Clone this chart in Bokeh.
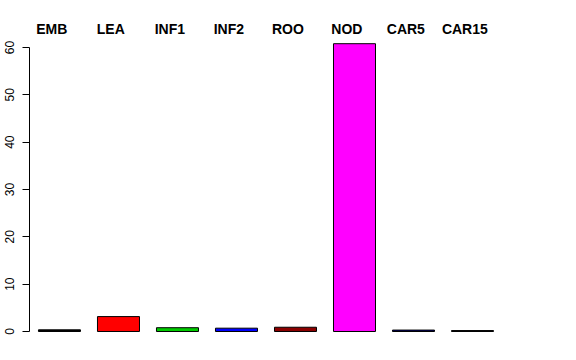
from bokeh.plotting import figure
from bokeh.models import ColumnDataSource
from bokeh.core.properties import value
from bokeh.embed import file_html
from bokeh.resources import INLINE

categories = ["EMB", "LEA", "INF1", "INF2", "ROO", "NOD", "CAR5", "CAR15"]
values = [0.35, 3.15, 0.8, 0.7, 0.9, 60.8, 0.3, 0.2]
colors = ["#000000", "#FF0000", "#00CD00", "#0000FF", "#8B0000", "#FF00FF", "#000080", "#555555"]
y_ticks = [0, 10, 20, 30, 40, 50, 60]

idx = list(range(len(categories)))
label_shift = 0.13
label_y = 64.0

src = ColumnDataSource(dict(x=idx, top=values, color=colors, cat=categories,
                            lx=[i - label_shift for i in idx], ly=[label_y] * len(idx)))

p = figure(width=576, height=360, output_backend="svg", toolbar_location=None,
           x_axis_location=None, x_range=(-0.508, 8.254), y_range=(-2.958, 65.70),
           min_border_left=29, min_border_right=30, min_border_top=20, min_border_bottom=15)
p.vbar(x="x", top="top", bottom=0, width=0.712, fill_color="color",
       line_color="#000000", line_width=1, source=src)
p.text(x="lx", y="ly", text="cat", source=src, text_align="center", text_baseline="middle",
       text_font=value("Liberation Sans"), text_font_style="bold", text_font_size="14px",
       text_color="#000000")

p.grid.visible = False
p.outline_line_color = None
ax = p.yaxis[0]
ax.ticker = y_ticks
ax.bounds = (0, 60)
ax.minor_tick_line_color = None
ax.major_tick_out = 7
ax.major_tick_in = 0
ax.major_label_orientation = "vertical"
ax.major_label_standoff = 8
ax.major_label_text_font = "Liberation Sans"
ax.major_label_text_font_size = "12px"
ax.major_label_text_color = "#000000"
ax.axis_line_color = "#000000"
ax.major_tick_line_color = "#000000"

open("out.html", "w").write(file_html(p, INLINE))
